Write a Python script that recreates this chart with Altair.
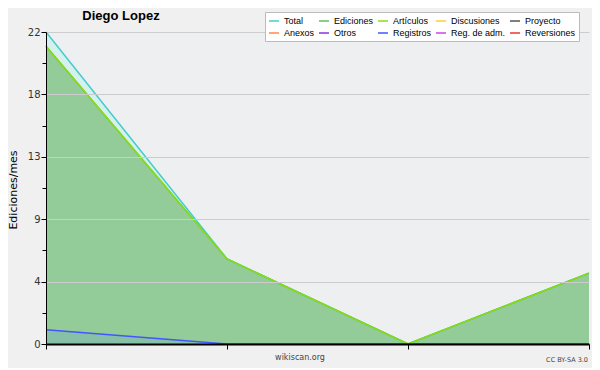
import altair as alt
import pandas as pd

months = [0, 1, 2, 3]
total = [22, 6, 0, 5]
ediciones = [21, 6, 0, 5]
articulos = [21, 6, 0, 5]
registros = [1, 0, 0, 0]

series_names = ["Total", "Ediciones", "Artículos", "Discusiones", "Proyecto",
                "Anexos", "Otros", "Registros", "Reg. de adm.", "Reversiones"]
series_colors = ["#44cccc", "#66bb66", "#88dd11", "#ffcc33", "#555555",
                 "#ff8844", "#8833dd", "#4455ff", "#cc44ee", "#ee3333"]

y_major = [0, 4.4, 8.8, 13.2, 17.6, 22]
y_ticks = [0, 2.2, 4.4, 6.6, 8.8, 11, 13.2, 15.4, 17.6, 19.8, 22]

chart_title = "Diego Lopez"
y_title = "Ediciones/mes"
footer = "wikiscan.org"
license_text = "CC BY-SA 3.0"

FONT = "DejaVu Sans"
LFONT = "Liberation Sans"

rows = []
for name, vals in [("Total", total), ("Ediciones", ediciones),
                   ("Artículos", articulos), ("Registros", registros)]:
    for m, v in zip(months, vals):
        rows.append({"mes": m, "serie": name, "valor": v})
df = pd.DataFrame(rows)

is_major = "abs(datum.value/4.4 - round(datum.value/4.4)) < 0.01"

x_enc = alt.X("mes:Q", scale=alt.Scale(domain=[0, 3], nice=False),
              axis=alt.Axis(values=months, labels=False, title=None, grid=False,
                            domainColor="#000", tickColor="#000", tickSize=5,
                            domainWidth=2, zindex=1))
y_enc = alt.Y("valor:Q", scale=alt.Scale(domain=[0, 22], nice=False),
              axis=alt.Axis(values=y_ticks, title=None,
                            labelExpr=is_major + " ? format(round(datum.value), 'd') : ''",
                            labelFont=FONT, labelFontSize=10, labelColor="#333",
                            domainColor="#000", tickColor="#000",
                            tickSize={"condition": {"test": is_major, "value": 5}, "value": 4},
                            grid=True,
                            gridColor={"condition": {"test": is_major, "value": "#cccccc"},
                                       "value": "transparent"},
                            labelPadding=1, zindex=1))

base = alt.Chart(df)

area_total = base.transform_filter(alt.datum.serie == "Total").mark_area(
    color="#d6f0ed", opacity=1).encode(x=x_enc, y=y_enc)
area_ed = base.transform_filter(alt.datum.serie == "Ediciones").mark_area(
    color="#93cc99", opacity=1).encode(x=x_enc, y=y_enc)
area_reg = base.transform_filter(alt.datum.serie == "Registros").mark_area(
    color="#86c0a6", opacity=1).encode(x=x_enc, y=y_enc)

lines = base.mark_line(strokeWidth=1.5).encode(
    x=x_enc, y=y_enc,
    color=alt.Color("serie:N",
                    scale=alt.Scale(domain=series_names, range=series_colors),
                    legend=alt.Legend(orient="none", legendX=219, legendY=-20,
                                      columns=5, direction="horizontal", title=None,
                                      symbolType="stroke", symbolSize=100,
                                      symbolStrokeWidth=1.5, symbolOpacity=1,
                                      labelFontSize=9,
                                      labelFont=LFONT, labelColor="#000",
                                      fillColor="white", strokeColor="#bbbbbb",
                                      padding=3, rowPadding=1, columnPadding=1,
                                      labelOffset=4, labelLimit=120, zindex=2)),
    order=alt.Order("serie:N")
)

def label(text, x, y, size, font=FONT, **kw):
    return alt.Chart(pd.DataFrame({"t": [text]})).mark_text(
        fontSize=size, font=font, **kw).encode(
        text="t:N", x=alt.value(x), y=alt.value(y))

title_mark = label(chart_title, 75, -16, 13, font=LFONT, fontWeight="bold",
                   color="#000", baseline="middle")
ytitle_mark = label(y_title, -32, 158, 11, angle=270, color="#000", baseline="middle")
footer_mark = label(footer, 254, 326, 8, color="#444", baseline="middle")
license_mark = label(license_text, 542, 328, 6.5, color="#444", align="right", baseline="middle")

chart = alt.layer(area_total, area_ed, area_reg, lines,
                  title_mark, ytitle_mark, footer_mark, license_mark).properties(
    width=543, height=312,
    padding={"left": 38, "top": 24, "right": 3, "bottom": 24},
    autosize=alt.AutoSizeParams(type="none"),
    background="#f0f0f0",
).configure_view(fill="#eeeff1", stroke=None)

chart.save("out.html", embed_options={"renderer": "svg", "actions": False})
